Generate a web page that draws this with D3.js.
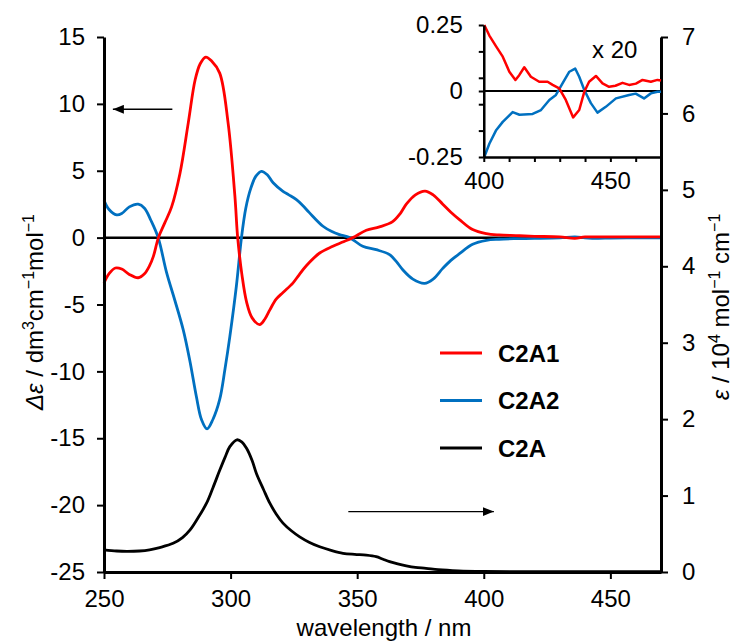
<!DOCTYPE html>
<html>
<head>
<meta charset="utf-8">
<script src="https://cdn.jsdelivr.net/npm/d3@7"></script>
<style>
  body { margin: 0; background: #fff; }
  svg { font-family: "Liberation Sans", Arial, Helvetica, sans-serif; }
</style>
</head>
<body>
<div id="container"></div>
<script>
// CD spectra (delta epsilon) of the two enantiomers, [wavelength nm, value]
const c2a1 = [
  [250, -3.4], [252, -2.7], [254.5, -2.27], [257, -2.35], [260, -2.75], [263.5, -3.0],
  [266, -2.7], [268, -2.1], [269.5, -1.4], [271.5, 0], [274, 1.1], [276.7, 2.3],
  [280, 4.8], [283.3, 8.6], [286, 11.8], [288, 13.0], [290.2, 13.5], [292.5, 13.2],
  [295.7, 12.3], [299, 8.6], [301.7, 3.1], [302.8, 0], [304.5, -2.8], [306.3, -4.8],
  [308.5, -6.0], [311.5, -6.5], [313.5, -6.1], [315.5, -5.4], [318, -4.6], [320.7, -4.1],
  [324.6, -3.4], [327, -2.8], [329.9, -2.1], [335.2, -1.15], [340.4, -0.65], [344, -0.35],
  [348.3, 0], [353.6, 0.55], [358.8, 0.8], [364, 1.2], [367, 1.8], [369.4, 2.5],
  [373, 3.2], [376.8, 3.48], [380, 3.2], [383.8, 2.5], [387, 1.9], [390.4, 1.35],
  [395.6, 0.6], [401, 0.3], [406, 0.2], [412.7, 0.15], [420, 0.1], [430, 0.05],
  [436, -0.05], [440, 0.05], [450, 0.05], [460, 0.06], [470, 0.06]
];
const c2a2 = [
  [250, 2.8], [252, 2.1], [255, 1.7], [257, 1.8], [260, 2.3], [263.5, 2.5],
  [266, 2.2], [268.5, 1.3], [271.4, 0], [274.7, -2.6], [278, -4.7], [281.3, -6.9],
  [284, -9.3], [286.5, -11.9], [288.5, -13.6], [290.7, -14.3], [293, -13.6], [295.7, -12.1],
  [297.8, -9.8], [299.7, -7.4], [302.3, -3.6], [304.3, 0], [306, 2.2], [308, 3.7],
  [310, 4.6], [312.2, 4.96], [314.5, 4.7], [316.8, 4.1], [320.7, 3.46], [323, 3.2],
  [326, 2.84], [328.5, 2.4], [331.2, 1.85], [336.5, 0.85], [340, 0.45], [343, 0.22],
  [347, 0], [352.2, -0.65], [357.5, -0.9], [362.8, -1.27], [365.5, -1.8], [368, -2.4],
  [372, -3.1], [376.6, -3.42], [380, -3.1], [383.8, -2.3], [387, -1.7], [390.4, -1.2],
  [395.6, -0.5], [401, -0.2], [406, -0.12], [412, -0.08], [420, -0.06], [430, -0.02],
  [436, 0.05], [440, -0.01], [445, -0.05], [450, -0.03], [460, -0.01], [470, -0.01]
];
// UV-vis absorption (epsilon / 10^4)
const c2a = [
  [250, 0.29], [255, 0.275], [259, 0.27], [264, 0.275], [268, 0.29], [272, 0.32],
  [277.3, 0.375], [281, 0.45], [284, 0.55], [287, 0.7], [290.5, 0.9], [293, 1.1],
  [295.7, 1.33], [297.8, 1.5], [299.7, 1.64], [302.5, 1.73], [304.5, 1.7], [306.3, 1.62],
  [308.5, 1.46], [310.2, 1.29], [313, 1.08], [315.5, 0.9], [318, 0.76], [320.7, 0.64],
  [324, 0.54], [327.3, 0.46], [331, 0.39], [335.2, 0.33], [340, 0.28], [344.4, 0.245],
  [349, 0.23], [353.6, 0.22], [357.5, 0.2], [360, 0.17], [362.8, 0.135], [366, 0.105],
  [369.4, 0.08], [373, 0.06], [377.2, 0.048], [382, 0.03], [390, 0.015], [400, 0.008],
  [420, 0.005], [440, 0.005], [470, 0.005]
];
// inset, x 20
const insetC2a1 = [
  [400.2, 0.25], [402.2, 0.21], [404.8, 0.17], [407.5, 0.13], [410.1, 0.073], [412.5, 0.042],
  [414, 0.06], [416, 0.09], [418.6, 0.054], [421.9, 0.035], [425.2, 0.035], [427.2, 0.023],
  [429.8, 0.01], [432.4, -0.034], [435.3, -0.1], [437.7, -0.072], [439.7, -0.003], [441.6, 0.035],
  [444.3, 0.057], [446.9, 0.029], [449.5, 0.016], [452, 0.02], [454.8, 0.031], [457.4, 0.023],
  [460.1, 0.028], [462.7, 0.042], [466, 0.035], [468.6, 0.042], [470, 0.04]
];
const insetC2a2 = [
  [400.2, -0.25], [402.2, -0.2], [404.8, -0.15], [407.5, -0.117], [411.4, -0.08], [414.1, -0.09],
  [419.3, -0.087], [422.6, -0.072], [425.9, -0.034], [428.5, -0.015], [431.1, 0.029], [433.8, 0.073],
  [436.1, 0.085], [437.7, 0.054], [439.7, 0.004], [442.3, -0.046], [444.9, -0.082], [448.2, -0.06],
  [452.2, -0.028], [457.4, -0.015], [460, -0.01], [463.3, -0.028], [466, -0.009], [468.6, -0.003],
  [470, -0.003]
];

const xTicks = [250, 300, 350, 400, 450];
const leftTicks = [-25, -20, -15, -10, -5, 0, 5, 10, 15];
const rightTicks = [0, 1, 2, 3, 4, 5, 6, 7];
const insetXTicks = [400, 410, 420, 430, 440, 450, 460, 470];
const insetYTicks = [-0.25, -0.15, -0.05, 0, 0.05, 0.15, 0.25];
const insetYLabels = [-0.25, 0, 0.25];
const seriesNames = ["C2A1", "C2A2", "C2A"];
const seriesColors = ["#ff0000", "#0070c0", "#000000"];

const width = 735;
const height = 641;
const fontSize = 24;

const svg = d3.create("svg").attr("width", width).attr("height", height);

const x = d3.scaleLinear().domain([250, 470]).range([104, 661]);
const yL = d3.scaleLinear().domain([-25, 15]).range([572, 37]);
const yR = d3.scaleLinear().domain([0, 7]).range([572, 37]);

function styleAxis(g, w) {
  g.select(".domain").attr("stroke-width", w);
  g.selectAll(".tick line").attr("stroke-width", 2);
  g.selectAll(".tick text").attr("font-size", fontSize).attr("fill", "#000");
  g.attr("font-family", null);
}

// zero line
svg.append("line")
  .attr("x1", x(250)).attr("x2", x(470))
  .attr("y1", yL(0)).attr("y2", yL(0))
  .attr("stroke", "#000").attr("stroke-width", 2.5);

const curve = d3.curveCatmullRom.alpha(0.5);
const lineL = d3.line().x(d => x(d[0])).y(d => yL(d[1])).curve(curve);
const lineR = d3.line().x(d => x(d[0])).y(d => yR(d[1])).curve(curve);

svg.append("path").datum(c2a).attr("d", lineR)
  .attr("fill", "none").attr("stroke", seriesColors[2]).attr("stroke-width", 2.8);
svg.append("path").datum(c2a2).attr("d", lineL)
  .attr("fill", "none").attr("stroke", seriesColors[1]).attr("stroke-width", 2.8);
svg.append("path").datum(c2a1).attr("d", lineL)
  .attr("fill", "none").attr("stroke", seriesColors[0]).attr("stroke-width", 2.8);

// axes
svg.append("g")
  .attr("transform", `translate(0,${yL(-25)})`)
  .call(d3.axisBottom(x).tickValues(xTicks).tickSize(7).tickSizeOuter(0).tickPadding(11).tickFormat(d => String(d)))
  .call(g => styleAxis(g, 3));

svg.append("g")
  .attr("transform", `translate(${x(250)},0)`)
  .call(d3.axisLeft(yL).tickValues(leftTicks).tickSize(7).tickSizeOuter(0).tickPadding(12).tickFormat(d => String(d)))
  .call(g => styleAxis(g, 3));

svg.append("g")
  .attr("transform", `translate(${x(470)},0)`)
  .call(d3.axisRight(yR).tickValues(rightTicks).tickSize(7).tickSizeOuter(0).tickPadding(14).tickFormat(d => String(d)))
  .call(g => styleAxis(g, 3));

// axis titles
svg.append("text")
  .attr("x", 384).attr("y", 636)
  .attr("text-anchor", "middle").attr("font-size", fontSize)
  .text("wavelength / nm");

function sup(t, s) {
  t.append("tspan").attr("dy", -9).attr("font-size", 16).text(s);
  return t;
}

const yTitleL = svg.append("text")
  .attr("transform", `translate(43,312) rotate(-90)`)
  .attr("text-anchor", "middle").attr("font-size", fontSize);
yTitleL.append("tspan").attr("font-style", "italic").text("Δε");
yTitleL.append("tspan").text(" / dm");
sup(yTitleL, "3");
yTitleL.append("tspan").attr("dy", 9).text("cm");
sup(yTitleL, "−1");
yTitleL.append("tspan").attr("dy", 9).text("mol");
sup(yTitleL, "−1");

const yTitleR = svg.append("text")
  .attr("transform", `translate(729,307) rotate(-90)`)
  .attr("text-anchor", "middle").attr("font-size", fontSize);
yTitleR.append("tspan").attr("font-style", "italic").text("ε");
yTitleR.append("tspan").text(" / 10");
sup(yTitleR, "4");
yTitleR.append("tspan").attr("dy", 9).text(" mol");
sup(yTitleR, "−1");
yTitleR.append("tspan").attr("dy", 9).text(" cm");
sup(yTitleR, "−1");

// arrows
const defs = svg.append("defs");
defs.append("marker")
  .attr("id", "head").attr("viewBox", "0 0 10 8")
  .attr("refX", 10).attr("refY", 4)
  .attr("markerWidth", 11).attr("markerHeight", 9)
  .attr("markerUnits", "userSpaceOnUse")
  .attr("orient", "auto")
  .append("path").attr("d", "M0,0L10,4L0,8Z").attr("fill", "#000");

svg.append("line")
  .attr("x1", x(277)).attr("x2", x(253.5))
  .attr("y1", yL(9.6)).attr("y2", yL(9.6))
  .attr("stroke", "#000").attr("stroke-width", 1.3)
  .attr("marker-end", "url(#head)");
svg.append("line")
  .attr("x1", x(346.5)).attr("x2", x(404))
  .attr("y1", yR(0.79)).attr("y2", yR(0.79))
  .attr("stroke", "#000").attr("stroke-width", 1.3)
  .attr("marker-end", "url(#head)");

// legend
const legend = svg.append("g").attr("transform", "translate(440,353)");
seriesNames.forEach((name, i) => {
  const row = legend.append("g").attr("transform", `translate(0,${i * 47.5})`);
  row.append("line").attr("x1", 0).attr("x2", 42)
    .attr("stroke", seriesColors[i]).attr("stroke-width", 3);
  row.append("text").attr("x", 58).attr("y", 8.5)
    .attr("font-size", fontSize).attr("font-weight", "bold").text(name);
});

// inset
const xi = d3.scaleLinear().domain([400, 470]).range([x(400), x(470)]);
const yi = d3.scaleLinear().domain([-0.25, 0.25]).range([157, 25]);
const inset = svg.append("g");

inset.append("line")
  .attr("x1", xi(400)).attr("x2", xi(470))
  .attr("y1", yi(0)).attr("y2", yi(0))
  .attr("stroke", "#000").attr("stroke-width", 2);

const lineI = d3.line().x(d => xi(d[0])).y(d => yi(d[1]));
inset.append("path").datum(insetC2a2).attr("d", lineI)
  .attr("fill", "none").attr("stroke", seriesColors[1]).attr("stroke-width", 2.5)
  .attr("stroke-linejoin", "round");
inset.append("path").datum(insetC2a1).attr("d", lineI)
  .attr("fill", "none").attr("stroke", seriesColors[0]).attr("stroke-width", 2.5)
  .attr("stroke-linejoin", "round");

inset.append("g")
  .attr("transform", `translate(0,${yi(-0.25)})`)
  .call(d3.axisBottom(xi).tickValues(insetXTicks).tickSize(5).tickSizeOuter(0).tickPadding(10)
    .tickFormat(d => (d === 400 || d === 450) ? String(d) : ""))
  .call(g => styleAxis(g, 2.5));

inset.append("g")
  .attr("transform", `translate(${xi(400)},0)`)
  .call(d3.axisLeft(yi).tickValues(insetYTicks).tickSize(5).tickSizeOuter(0).tickPadding(16)
    .tickFormat(d => insetYLabels.includes(d) ? String(d) : ""))
  .call(g => styleAxis(g, 2.5));

inset.append("text")
  .attr("x", 592).attr("y", 58)
  .attr("font-size", fontSize).text("x 20");

document.getElementById("container").append(svg.node());
</script>
</body>
</html>
